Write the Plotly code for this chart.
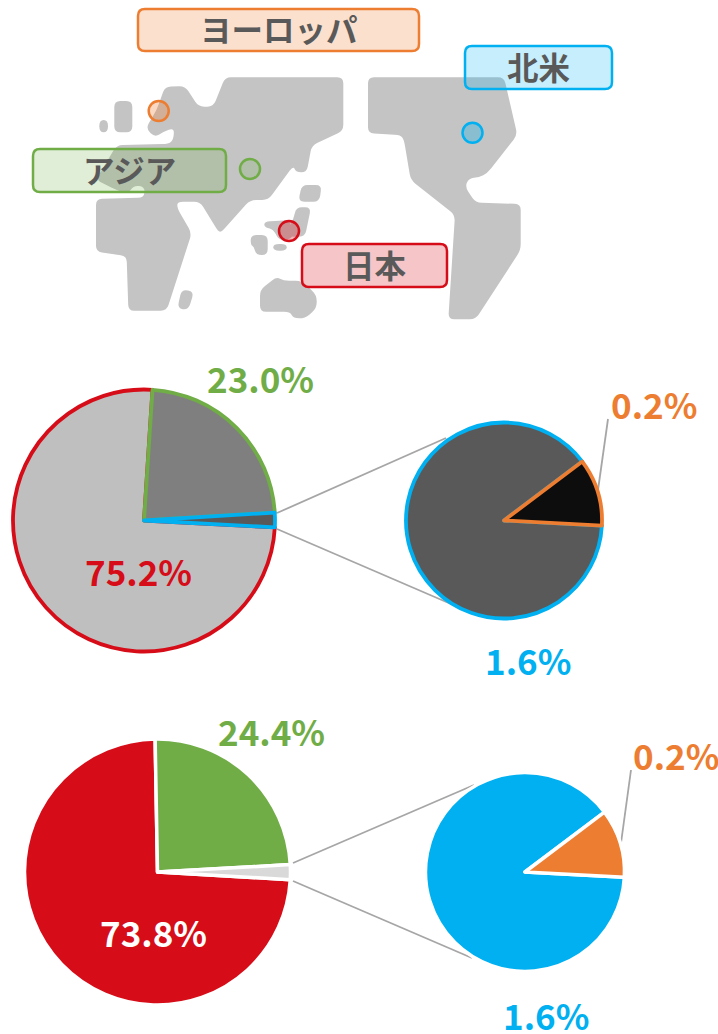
import plotly.graph_objects as go

W, H = 718, 1034
RED, GREEN, BLUE, ORANGE = "#d60d18", "#70ad47", "#00b0f0", "#ed7d31"
TEXT_GREY, MAP_GREY, LEADER = "#595959", "#c4c4c4", "#a6a6a6"
FONT = "Noto Sans CJK JP"

# ---- data ----
main_labels = ["日本", "アジア", "北米+ヨーロッパ"]
share_2a = [75.2, 23.0, 1.8]
share_2b = [73.8, 24.4, 1.8]
sub_labels = ["北米", "ヨーロッパ"]
sub_2a = [1.6, 0.2]
sub_2b = [1.6, 0.2]

region_names = ["ヨーロッパ", "アジア", "北米", "日本"]
region_colors = [ORANGE, GREEN, BLUE, RED]
region_fills = ["rgba(237,125,49,0.24)", "rgba(112,173,71,0.22)",
                "rgba(0,176,240,0.22)", "rgba(214,13,24,0.24)"]
region_boxes = [(138, 9, 419, 51), (33, 149, 226, 192), (465, 46, 612, 89), (302, 244, 447, 287)]
region_x = [158.7, 250, 472.5, 289]
region_y = [111, 169, 132.7, 231]

# ---- decorative map outlines, in pixels ----
def z1(pts):
    return [(x / 3, y / 3) for x, y in pts]

def z2(pts):
    return [(359 + x / 3, y / 3) for x, y in pts]

EURASIA_AFRICA = z1([(437, 385), (470, 330), (495, 260), (555, 258), (595, 320), (640, 320), (675, 232),
    (1030, 232), (1030, 392), (935, 437), (920, 517), (888, 517), (880, 497), (805, 600), (750, 600),
    (665, 695), (655, 695), (600, 605), (532, 605), (532, 625), (575, 700), (500, 932), (385, 932),
    (380, 768), (288, 755), (288, 597), (432, 593), (435, 560), (400, 556), (385, 582), (350, 570),
    (288, 540), (350, 435), (505, 432), (520, 420), (523, 383), (490, 395), (465, 412)])
AMERICAS = z2([(27, 232), (435, 232), (475, 405), (385, 520), (360, 532), (330, 535), (318, 560),
    (350, 608), (485, 612), (485, 750), (350, 958), (268, 958), (288, 645), (155, 540), (135, 420),
    (125, 405), (27, 400)])
ISLANDS = [
    z1([(343, 303), (397, 303), (397, 397), (343, 397)]),
    z1([(298, 360), (324, 360), (324, 397), (298, 397)]),
    z1([(545, 868), (582, 875), (565, 930), (532, 925)]),
    z1([(905, 555), (965, 555), (958, 605), (895, 605)]),
    z1([(888, 622), (933, 622), (915, 710), (865, 710), (865, 685), (880, 660)]),
    z1([(793, 665), (870, 660), (880, 715), (838, 722), (820, 688), (793, 682)]),
    z1([(752, 705), (803, 705), (803, 765), (768, 765), (762, 740), (752, 735)]),
    z1([(820, 732), (860, 732), (860, 752), (820, 752)]),
    z1([(780, 870), (830, 830), (850, 842), (905, 842), (950, 885), (950, 925), (915, 955),
        (880, 955), (870, 935), (780, 935)]),
]

def rounded(pts, r=5):
    n = len(pts)
    d = ""
    for i in range(n):
        px, py = pts[i - 1]
        cx, cy = pts[i]
        nx, ny = pts[(i + 1) % n]
        l1 = ((cx - px) ** 2 + (cy - py) ** 2) ** 0.5
        l2 = ((nx - cx) ** 2 + (ny - cy) ** 2) ** 0.5
        a = min(r, l1 / 2) / l1
        b = min(r, l2 / 2) / l2
        sx, sy = cx + (px - cx) * a, cy + (py - cy) * a
        ex, ey = cx + (nx - cx) * b, cy + (ny - cy) * b
        d += f"{'M' if i == 0 else 'L'}{sx:.1f},{sy:.1f} Q{cx:.1f},{cy:.1f} {ex:.1f},{ey:.1f} "
    return d + "Z"

def domain(cx, cy, r):
    return dict(x=[(cx - r) / W, (cx + r) / W], y=[1 - (cy + r) / H, 1 - (cy - r) / H])

def pie(labels, values, colors, lines, lw, rotation, cx, cy, r):
    return go.Pie(labels=labels, values=values, sort=False, direction="clockwise", rotation=rotation,
                  marker=dict(colors=colors, line=dict(color=lines, width=lw)), textinfo="none",
                  hoverinfo="skip", showlegend=False, domain=domain(cx, cy, r))

fig = go.Figure()
fig.add_trace(go.Scatter(x=region_x, y=region_y, mode="markers", hoverinfo="skip", showlegend=False,
    marker=dict(size=20, color=["rgba(237,125,49,0.3)", "rgba(112,173,71,0.2)",
                                "rgba(0,176,240,0.3)", "rgba(214,13,24,0.3)"],
                line=dict(color=region_colors, width=2.5))))
fig.add_trace(pie(main_labels, share_2a, ["#bfbfbf", "#7f7f7f", "#595959"], [RED, GREEN, BLUE], 3.8, 93, 144, 520.5, 131))
fig.add_trace(pie(sub_labels, sub_2a, ["#595959", "#0d0d0d"], [BLUE, ORANGE], 3.8, 93, 504, 520.5, 98))
fig.add_trace(pie(main_labels, share_2b, [RED, GREEN, "#d9d9d9"], ["white"] * 3, 3.5, 93.3, 157.5, 872, 133))
fig.add_trace(pie(sub_labels, sub_2b, [BLUE, ORANGE], ["white"] * 2, 3.5, 93, 525, 872, 99.5))

shapes = []
for poly in [EURASIA_AFRICA, AMERICAS] + ISLANDS:
    shapes.append(dict(type="path", path=rounded(poly, 6), fillcolor=MAP_GREY, line=dict(width=0), layer="below"))
for (x0, y0, x1, y1), c, f in zip(region_boxes, region_colors, region_fills):
    path = rounded([(x0, y0), (x1, y0), (x1, y1), (x0, y1)], 7)
    shapes.append(dict(type="path", path=path, fillcolor=f, line=dict(color=c, width=2.5), layer="above"))
LEADERS = [(277, 513, 446, 438), (277, 529, 451, 604), (608, 419, 598, 490),
           (293, 863, 474, 785), (293, 881, 472, 958), (631, 770, 621, 843)]
for x0, y0, x1, y1 in LEADERS:
    shapes.append(dict(type="line", x0=x0, y0=y0, x1=x1, y1=y1, line=dict(color=LEADER, width=1.8), layer="below"))

annotations = []
for name, (x0, y0, x1, y1) in zip(region_names, region_boxes):
    annotations.append(dict(x=(x0 + x1) / 2, y=(y0 + y1) / 2 - 2, text=name, showarrow=False,
                            font=dict(family=FONT, size=31.5, color=TEXT_GREY, weight=600)))
PCT = [(f"{share_2a[1]:.1f}%", 260, 377, GREEN), (f"{share_2a[0]:.1f}%", 138, 570, RED),
       (f"{sub_2a[1]:.1f}%", 654, 403, ORANGE), (f"{sub_2a[0]:.1f}%", 528, 659, BLUE),
       (f"{share_2b[1]:.1f}%", 271, 730, GREEN), (f"{share_2b[0]:.1f}%", 153, 931, "white"),
       (f"{sub_2b[1]:.1f}%", 676, 754, ORANGE), (f"{sub_2b[0]:.1f}%", 546, 1014, BLUE)]
for t, x, y, c in PCT:
    annotations.append(dict(x=x, y=y, text=t, showarrow=False,
                            font=dict(family=FONT, size=35, color=c, weight=600)))

fig.update_layout(width=W, height=H, margin=dict(l=0, r=0, t=0, b=0), paper_bgcolor="white",
                  plot_bgcolor="white", showlegend=False, shapes=shapes, annotations=annotations,
                  xaxis=dict(range=[0, W], visible=False, fixedrange=True),
                  yaxis=dict(range=[H, 0], visible=False, fixedrange=True))
fig.write_html("out.html", config={"displayModeBar": False},
               post_script="document.body.style.margin='0';document.body.style.overflow='hidden';")
